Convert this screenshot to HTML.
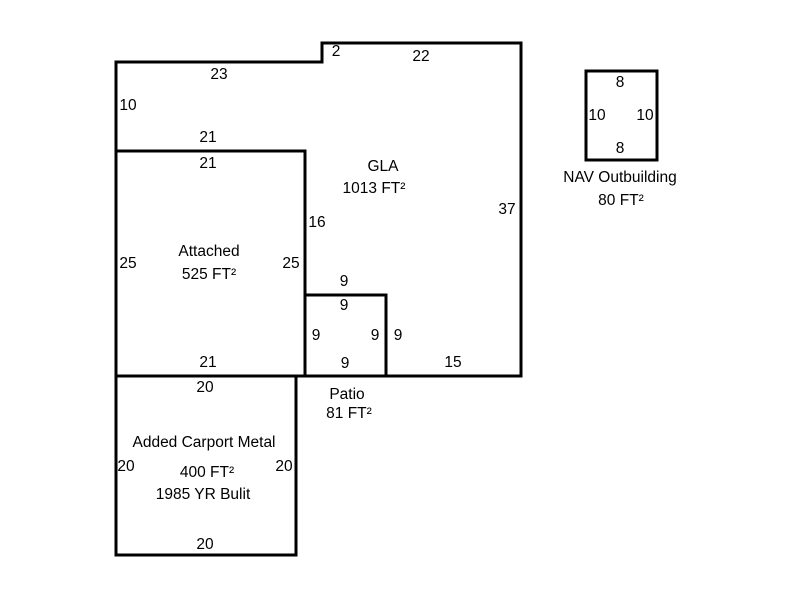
<!DOCTYPE html>
<html><head><style>body{margin:0;background:#fff}svg{display:block}text{font-family:"Liberation Sans",Arial,sans-serif;font-size:15.5px;fill:#000;text-anchor:middle}</style></head>
<body>
<svg width="800" height="600" viewBox="0 0 800 600">
<g fill="none" stroke="#000" stroke-width="3">
<polyline points="116,376 116,62 322,62 322,43 521,43 521,376 305,376"/>
<rect x="116" y="151" width="189" height="225"/>
<rect x="305" y="295" width="81" height="81"/>
<rect x="116" y="376" width="180" height="179"/>
<rect x="586" y="71" width="71" height="89"/>
</g>
<text x="336" y="56">2</text>
<text x="421" y="61">22</text>
<text x="219" y="79">23</text>
<text x="128" y="110">10</text>
<text x="208" y="142">21</text>
<text x="208" y="168">21</text>
<text x="383" y="171">GLA</text>
<text x="374" y="193">1013 FT²</text>
<text x="507" y="214">37</text>
<text x="317" y="227">16</text>
<text x="209" y="256">Attached</text>
<text x="209" y="279">525 FT²</text>
<text x="128" y="268">25</text>
<text x="291" y="268">25</text>
<text x="344" y="286">9</text>
<text x="344" y="310">9</text>
<text x="316" y="340">9</text>
<text x="375" y="340">9</text>
<text x="398" y="340">9</text>
<text x="345" y="368">9</text>
<text x="453" y="367">15</text>
<text x="208" y="367">21</text>
<text x="205" y="392">20</text>
<text x="347" y="399">Patio</text>
<text x="349" y="418">81 FT²</text>
<text x="204" y="447">Added Carport Metal</text>
<text x="126" y="471">20</text>
<text x="284" y="471">20</text>
<text x="207" y="477">400 FT²</text>
<text x="203" y="499">1985 YR Bulit</text>
<text x="205" y="549">20</text>
<text x="620" y="87">8</text>
<text x="597" y="120">10</text>
<text x="645" y="120">10</text>
<text x="620" y="153">8</text>
<text x="620" y="182">NAV Outbuilding</text>
<text x="621" y="205">80 FT²</text>
</svg>
</body></html>
